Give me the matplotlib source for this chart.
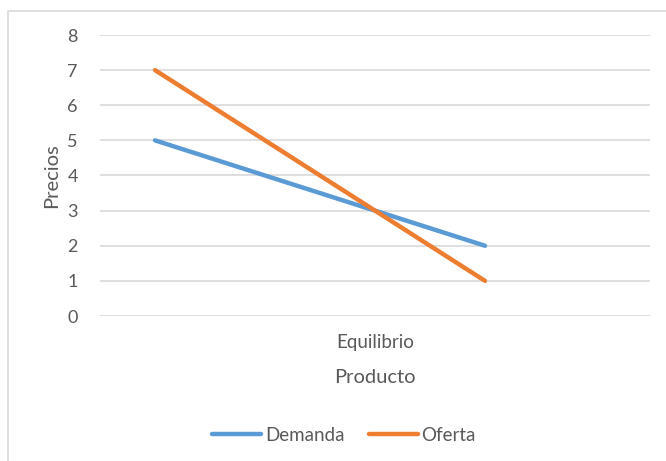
import matplotlib.pyplot as plt
from matplotlib.patches import Rectangle

# Data
series_names = ['Demanda', 'Oferta']
x_values = [1, 7]          # positions along the product axis (0..10)
demanda = [5, 2]
oferta = [7, 1]
category_label = 'Equilibrio'
category_pos = 5
colors = ['#5B9BD5', '#ED7D31']

plt.rcParams['font.family'] = ['Lato', 'DejaVu Sans']
text_color = '#595959'

fig = plt.figure(figsize=(6.66, 4.61), dpi=100)
ax = fig.add_axes([100 / 666, 1 - 316 / 461, 550 / 666, 281 / 461])

ax.plot(x_values, demanda, color=colors[0], lw=3.2, solid_capstyle='round', label=series_names[0])
ax.plot(x_values, oferta, color=colors[1], lw=3.2, solid_capstyle='round', label=series_names[1])

ax.set_xlim(0, 10)
ax.set_ylim(0, 8)
ax.set_yticks(range(0, 9))
ax.set_xticks([category_pos])
ax.set_xticklabels([category_label])
ax.grid(axis='y', color='#D9D9D9', lw=1.2)
ax.set_axisbelow(True)
for s in ax.spines.values():
    s.set_visible(False)
ax.tick_params(axis='both', length=0, colors=text_color, labelsize=13)
ax.tick_params(axis='x', labelsize=13.5, pad=13)
ax.tick_params(axis='y', pad=16)

ax.set_xlabel('Producto', color=text_color, fontsize=14.5, labelpad=13)
ax.set_ylabel('Precios', color=text_color, fontsize=14.5, labelpad=5)

fig.legend(loc='center', bbox_to_anchor=(344 / 666, 1 - 435 / 461), ncol=2, frameon=False,
           fontsize=13.5, labelcolor=text_color, handlelength=2.6, handletextpad=0.2,
           columnspacing=1.3)

fig.patches.append(Rectangle((7.5 / 666, -0.01), 1, 1 - 10.5 / 461 + 0.01, transform=fig.transFigure,
                             fill=False, edgecolor='#D9D9D9', lw=1.2))

fig.savefig('out.png', dpi=100)
